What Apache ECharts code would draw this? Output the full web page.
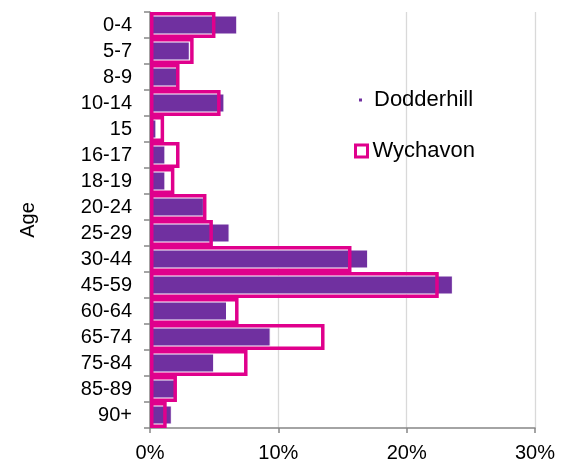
<!DOCTYPE html>
<html><head><meta charset="utf-8">
<script src="https://cdn.jsdelivr.net/npm/echarts@6/dist/echarts.min.js"></script>
<style>html,body{margin:0;padding:0;background:#fff}#c{width:571px;height:463px}</style>
</head><body><div id="c"></div>
<script>
const categories = ['0-4','5-7','8-9','10-14','15','16-17','18-19','20-24','25-29','30-44','45-59','60-64','65-74','75-84','85-89','90+'];
const dodderhill = [6.8,3.1,2.2,5.8,0.5,1.2,1.2,4.2,6.2,17.0,23.6,6.0,9.4,5.0,2.0,1.7];
const wychavon = [5.1,3.4,2.3,5.5,1.1,2.3,1.9,4.4,4.9,15.7,22.5,6.9,13.6,7.6,2.1,1.3];
const xMin = 0, xMax = 30, xStep = 10;

const FONT = 'Arial, "Liberation Sans", sans-serif';
const PURPLE = '#7030A0';
const MAGENTA = '#E0008C';
const AXIS = '#868686';

const chart = echarts.init(document.getElementById('c'), null, {renderer:'canvas'});
chart.setOption({
  animation: false,
  backgroundColor: '#fff',
  textStyle: {fontFamily: FONT},
  grid: {left: 150, right: 36, top: 12, bottom: 33},
  legend: [
    {left: 352, top: 84, orient:'vertical', itemWidth: 5, itemHeight: 5,
     data: [{name:'Dodderhill', icon:'rect'}],
     textStyle:{fontSize:22, color:'#000', fontFamily:FONT, padding:[0,0,0,6]}},
    {left: 349, top: 135, orient:'vertical', itemWidth: 12, itemHeight: 12,
     data: [{name:'Wychavon', icon:'rect', itemStyle:{color:'#fff', borderColor:MAGENTA, borderWidth:3}}],
     textStyle:{fontSize:22, color:'#000', fontFamily:FONT}}
  ],
  xAxis: {
    type:'value', min:xMin, max:xMax, interval:xStep,
    axisLine:{show:true, lineStyle:{color:AXIS, width:1.5}},
    axisTick:{show:true, length:5, lineStyle:{color:AXIS, width:1.5}},
    axisLabel:{formatter:'{value}%', fontSize:20, color:'#000', margin:15, fontFamily:FONT},
    splitLine:{show:true, lineStyle:{color:'#d9d9d9', width:1.3}}
  },
  yAxis: [
    {type:'category', data:categories, inverse:true,
     name:'Age', nameLocation:'middle', nameGap:112, nameRotate:90,
     nameTextStyle:{fontSize:20, color:'#000', fontFamily:FONT},
     axisLine:{show:true, lineStyle:{color:AXIS, width:1.5}},
     axisTick:{show:true, length:6, lineStyle:{color:AXIS, width:1.5}},
     axisLabel:{interval:0, fontSize:20, color:'#000', margin:18, fontFamily:FONT}},
    {type:'category', data:categories, inverse:true, show:false}
  ],
  series: [
    {name:'Dodderhill', type:'bar', yAxisIndex:0, data:dodderhill, barWidth:19,
     itemStyle:{color:PURPLE, borderColor:'#fff', borderWidth:1}},
    {name:'Wychavon', type:'bar', yAxisIndex:1, data:wychavon, barWidth:26,
     itemStyle:{color:'rgba(0,0,0,0)', borderColor:MAGENTA, borderWidth:3.5}}
  ]
});
</script></body></html>
